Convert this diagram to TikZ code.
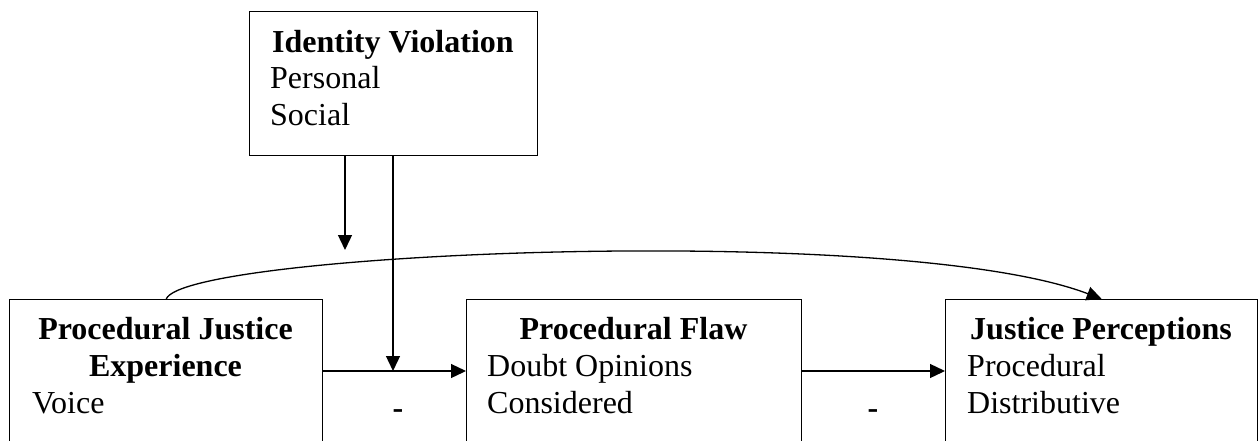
\documentclass[tikz,border=0pt]{standalone}
\usepackage{fontspec}
\setmainfont{Liberation Serif}
\usetikzlibrary{arrows.meta}
\begin{document}
\begin{tikzpicture}[x=1pt,y=-1pt,
  box/.style={draw, line width=1.4pt, rectangle, anchor=north west, inner sep=0pt},
  txt/.style={inner sep=0pt, font=\fontsize{32}{37}\selectfont},
  ttl/.style={txt, font=\fontsize{32}{37}\selectfont\bfseries},
  arr/.style={line width=1.3pt, -{Triangle[length=15pt,width=14pt]}},
  ln/.style={line width=1.3pt}]
\useasboundingbox (0,0) rectangle (1258,440);
\clip (0,0) rectangle (1258,440);
% boxes
\node[box, minimum width=288pt, minimum height=144pt] (iv) at (249,11) {};
\node[box, minimum width=313pt, minimum height=160pt] (pje) at (9,299) {};
\node[box, minimum width=335pt, minimum height=160pt] (pf) at (466,299) {};
\node[box, minimum width=312pt, minimum height=160pt] (jp) at (945,299) {};
% texts
\node[ttl, anchor=base west] (iv1) at (272,52) {Identity Violation};
\node[txt, anchor=base west] (iv2) at (270,88) {Personal};
\node[txt, anchor=base west] (iv3) at (270,125) {Social};
\node[ttl, anchor=base] (pje1) at (165.5,339) {Procedural Justice};
\node[ttl, anchor=base] (pje2) at (165.5,376) {Experience};
\node[txt, anchor=base west] (pje3) at (32,413) {Voice};
\node[ttl, anchor=base] (pf1) at (633.5,339) {Procedural Flaw};
\node[txt, anchor=base west] (pf2) at (487,376) {Doubt Opinions};
\node[txt, anchor=base west] (pf3) at (487,413) {Considered};
\node[ttl, anchor=base] (jp1) at (1101,339) {Justice Perceptions};
\node[txt, anchor=base west] (jp2) at (967,376) {Procedural};
\node[txt, anchor=base west] (jp3) at (967,413) {Distributive};
\node[ttl, anchor=base] (neg1) at (398,418) {-};
\node[ttl, anchor=base] (neg2) at (873,418) {-};
% connectors
\coordinate (m1) at (345,250);
\coordinate (m2) at (393,371);
\draw[arr] (iv.south -| m1) -- (m1);
\draw[arr] (iv.south -| m2) -- (m2);
\draw[arr] (pje.east |- m2) -- (pf.west |- m2);
\draw[arr] (pf.east |- m2) -- (jp.west |- m2);
\draw[arr] (pje.north) .. controls (185,252) and (900,222) .. (jp.north);
\end{tikzpicture}
\end{document}
